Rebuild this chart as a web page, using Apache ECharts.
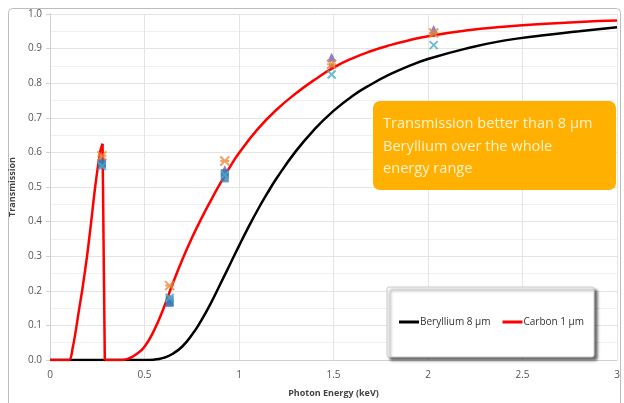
<!DOCTYPE html>
<html>
<head>
<meta charset="utf-8">
<script src="https://cdn.jsdelivr.net/npm/echarts@6/dist/echarts.min.js"></script>
<style>
html,body{margin:0;padding:0;background:#fff;}
#c{width:624px;height:403px;}
</style>
</head>
<body>
<div id="c"></div>
<script>
// ---- data ----
const berylliumE = [0, 0.5, 0.55, 0.6, 0.65, 0.7, 0.75, 0.8, 0.85, 0.9, 0.95, 1.0, 1.05, 1.1, 1.15, 1.2, 1.3, 1.4, 1.5, 1.6, 1.7, 1.8, 1.9, 2.0, 2.2, 2.4, 2.6, 2.8, 3.0];
const berylliumT = [0, 0, 0.001, 0.006, 0.018, 0.039, 0.072, 0.114, 0.163, 0.218, 0.274, 0.33, 0.384, 0.435, 0.482, 0.526, 0.603, 0.667, 0.72, 0.763, 0.797, 0.826, 0.85, 0.87, 0.90, 0.923, 0.938, 0.95, 0.962];

// carbon: below the K edge, the edge drop, above the edge
const carbonLowE = [0, 0.1, 0.12, 0.138, 0.155, 0.17, 0.196, 0.218, 0.239, 0.265, 0.278];
const carbonLowT = [0, 0, 0.035, 0.09, 0.15, 0.2, 0.3, 0.4, 0.5, 0.6, 0.625];
const carbonEdgeE = [0.278, 0.29];
const carbonEdgeT = [0.625, 0];
const carbonHighE = [0.29, 0.38, 0.42, 0.46, 0.5, 0.55, 0.6, 0.65, 0.7, 0.75, 0.8, 0.85, 0.9, 0.95, 1.0, 1.1, 1.2, 1.3, 1.4, 1.5, 1.6, 1.7, 1.8, 1.9, 2.0, 2.2, 2.4, 2.6, 2.8, 3.0];
const carbonHighT = [0, 0, 0.005, 0.018, 0.038, 0.085, 0.148, 0.222, 0.29, 0.352, 0.408, 0.46, 0.51, 0.556, 0.598, 0.668, 0.724, 0.77, 0.81, 0.845, 0.872, 0.893, 0.91, 0.924, 0.936, 0.952, 0.963, 0.971, 0.977, 0.981];

const markerE = [0.275, 0.633, 0.925, 1.49, 2.03];
const measStar = [0.59, 0.215, 0.575, 0.855, 0.945];
const measSquare = [0.565, 0.165, 0.525, null, null];
const measSquare2 = [0.57, 0.175, 0.54, null, null];
const measCross = [0.56, 0.18, 0.535, 0.825, 0.91];
const measTriangle = [null, 0.17, 0.55, 0.875, 0.955];
const measDot = [null, null, null, 0.85, 0.94];

const xTicks = [0, 0.5, 1, 1.5, 2, 2.5, 3];
const legendNames = ['Beryllium 8 µm', 'Carbon 1 µm'];
const noteLines = ['Transmission better than 8 µm', 'Beryllium over the whole', 'energy range'];

// ---- build ----
const pairs = (xs, ys) => xs.map((x, i) => [x, ys[i]]).filter(p => p[1] !== null);
const FONT = '"Open Sans", Lato, sans-serif';
const chart = echarts.init(document.getElementById('c'), null, {renderer: 'canvas'});

function scatter(name, ys, symbol, size, fill, stroke, bw) {
  return {
    name: name, type: 'scatter', data: pairs(markerE, ys), symbol: symbol, symbolSize: size,
    itemStyle: {color: fill, borderColor: stroke, borderWidth: bw}, z: 5, silent: true
  };
}
function line(name, xs, ys, color, smooth, z) {
  return {name: name, type: 'line', data: pairs(xs, ys), smooth: smooth, showSymbol: false,
    lineStyle: {color: color, width: 2.5}, itemStyle: {color: color}, z: z};
}
const crossPath = 'path://M0,0L10,10M10,0L0,10';
const starPath = 'path://M0,0L10,10M10,0L0,10M0,5L10,5';

chart.setOption({
  animation: false,
  textStyle: {fontFamily: FONT},
  grid: {left: 48, right: 7, top: 14, bottom: 39},
  xAxis: {
    type: 'value', min: 0, max: 3, interval: 0.5,
    name: 'Photon Energy (keV)', nameLocation: 'middle', nameGap: 29,
    nameTextStyle: {fontSize: 9, fontWeight: 'bold', color: '#444', fontFamily: FONT},
    axisLine: {show: true, lineStyle: {color: '#d0d0d0'}},
    axisTick: {show: false},
    axisLabel: {fontSize: 10, color: '#555', margin: 10, formatter: v => xTicks.includes(v) ? String(v) : ''},
    splitLine: {show: true, lineStyle: {color: '#e4e4e4'}}
  },
  yAxis: {
    type: 'value', min: 0, max: 1, interval: 0.1,
    name: 'Transmission', nameLocation: 'middle', nameGap: 33, nameRotate: 90,
    nameTextStyle: {fontSize: 9, fontWeight: 'bold', color: '#444', fontFamily: FONT},
    axisLine: {show: true, lineStyle: {color: '#d0d0d0'}},
    axisTick: {show: true, length: 4, lineStyle: {color: '#d0d0d0'}},
    axisLabel: {fontSize: 10, color: '#555', margin: 8, formatter: v => v.toFixed(1)},
    splitLine: {show: true, lineStyle: {color: '#e4e4e4'}},
    minorTick: {show: false, splitNumber: 2},
    minorSplitLine: {show: true, lineStyle: {color: '#f0f0f0'}}
  },
  legend: {
    data: legendNames,
    left: 387, top: 287,
    padding: [30, 10, 30, 12],
    itemGap: 12, itemWidth: 20, itemHeight: 3,
    icon: 'rect',
    backgroundColor: '#fff',
    borderColor: '#c8c8c8', borderWidth: 1, borderRadius: 2,
    shadowColor: 'rgba(0,0,0,0.6)', shadowBlur: 3, shadowOffsetX: 3, shadowOffsetY: 3,
    textStyle: {fontSize: 10, color: '#333', padding: [0, 0, 0, -4], fontFamily: FONT}
  },
  graphic: {
    elements: [
      {type: 'rect', left: 6, top: 6, shape: {width: 612, height: 420, r: 4},
       style: {fill: 'none', stroke: '#bdbdbd', lineWidth: 1}, silent: true, z: 0},
      {type: 'rect', left: 373, top: 101, z: 100, shape: {width: 243, height: 89, r: 7},
       style: {fill: '#FFB000'}},
      {type: 'text', left: 383, top: 113, z: 101,
       style: {text: noteLines.join('\n'), fill: '#FFF3D0', font: '14.6px ' + FONT, lineHeight: 22.5}}
    ]
  },
  series: [
    line(legendNames[0], berylliumE, berylliumT, '#000', 0.5, 2),
    line(legendNames[1], carbonLowE, carbonLowT, '#FF0000', 0.3, 3),
    line(legendNames[1], carbonEdgeE, carbonEdgeT, '#FF0000', false, 3),
    line(legendNames[1], carbonHighE, carbonHighT, '#FF0000', 0.5, 3),
    scatter('m1', measTriangle, 'triangle', 9, '#7B5EA7', '#7B5EA7', 0),
    scatter('m2', measSquare, 'rect', 8, '#3C78B5', '#3C78B5', 0),
    scatter('m3', measSquare2, 'rect', 8, '#3C78B5', '#3C78B5', 0),
    scatter('m4', measDot, 'circle', 5, '#C0504D', '#C0504D', 0),
    scatter('m5', measStar, starPath, 9, 'rgba(0,0,0,0)', '#E8883A', 2),
    scatter('m6', measCross, crossPath, 8, 'rgba(0,0,0,0)', '#4BACC6', 2)
  ]
});
</script>
</body>
</html>
